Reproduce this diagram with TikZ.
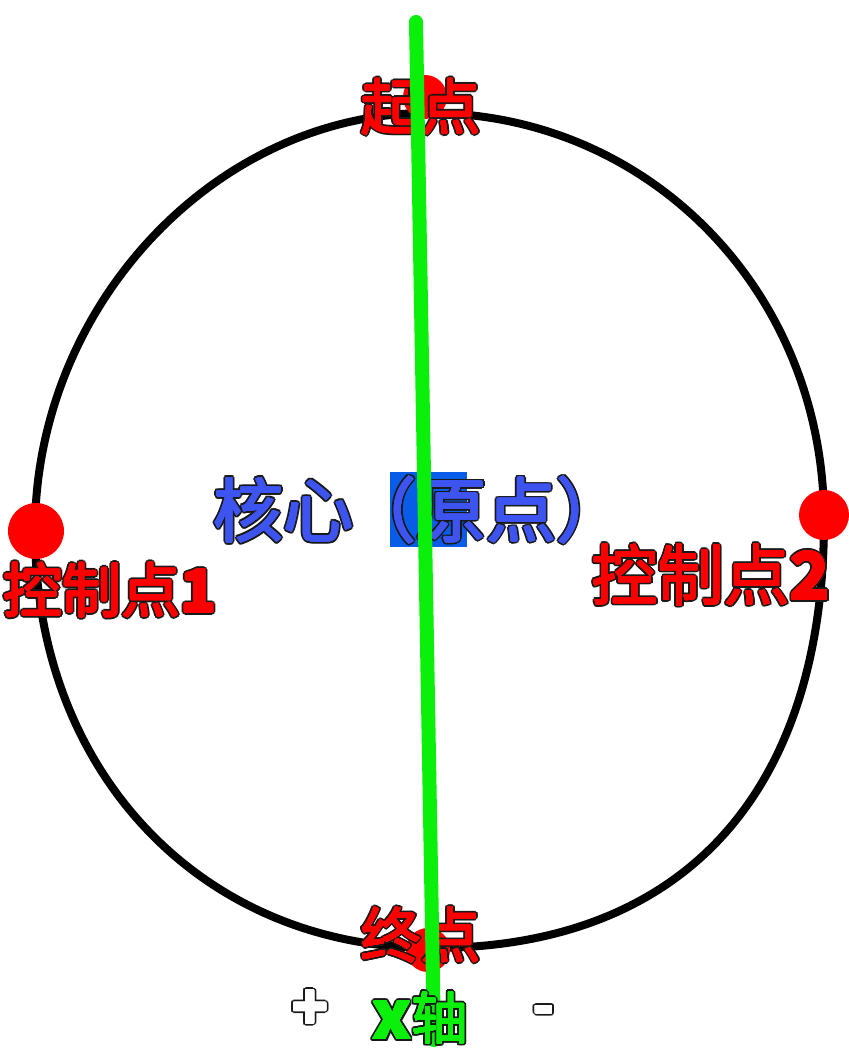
\documentclass[tikz,border=0pt]{standalone}
\usepackage{fontspec}
\newfontfamily\cjk{Noto Sans CJK SC}
\definecolor{olc}{RGB}{25,25,25}
\definecolor{labred}{RGB}{250,0,0}
\definecolor{dotred}{RGB}{255,0,0}
\definecolor{txtblue}{RGB}{62,84,240}
\definecolor{rectblue}{RGB}{8,92,232}
\definecolor{axgreen}{RGB}{10,240,10}
\newdimen\olw
\newcommand\ring[1]{% uses \olw, copies box #1
  \rlap{\kern\olw\copy#1}%
  \rlap{\kern-\olw\copy#1}%
  \rlap{\raise\olw\copy#1}%
  \rlap{\lower\olw\copy#1}%
  \rlap{\kern0.707\olw\raise0.707\olw\copy#1}%
  \rlap{\kern-0.707\olw\raise0.707\olw\copy#1}%
  \rlap{\kern0.707\olw\lower0.707\olw\copy#1}%
  \rlap{\kern-0.707\olw\lower0.707\olw\copy#1}%
  \rlap{\kern0.92\olw\raise0.38\olw\copy#1}%
  \rlap{\kern-0.92\olw\raise0.38\olw\copy#1}%
  \rlap{\kern0.92\olw\lower0.38\olw\copy#1}%
  \rlap{\kern-0.92\olw\lower0.38\olw\copy#1}%
  \rlap{\kern0.38\olw\raise0.92\olw\copy#1}%
  \rlap{\kern-0.38\olw\raise0.92\olw\copy#1}%
  \rlap{\kern0.38\olw\lower0.92\olw\copy#1}%
  \rlap{\kern-0.38\olw\lower0.92\olw\copy#1}}
\newcommand\olt[3]{%
  \setbox2=\hbox{{\color{olc}#3}}%
  \setbox4=\hbox{{\color{#1}#3}}%
  \leavevmode
  \olw=#2\relax \ring{2}%
  \olw=\dimexpr#2*6/10\relax \ring{2}%
  \olw=0.7pt \ring{4}%
  \olw=0.35pt \ring{4}%
  \box4}
\tikzset{
  dotnode/.style={circle, fill=dotred, inner sep=0pt, minimum size=#1},
  lab/.style={inner sep=0pt, anchor=center, font=\cjk\fontsize{#1}{#1}\selectfont},
}
\begin{document}
\begin{tikzpicture}[x=1pt,y=-1pt]
\useasboundingbox[fill=white] (0,0) rectangle (848,1056);
% outline points
\coordinate (L) at (35,531);
\coordinate (T) at (428,113);
\coordinate (R) at (824,520);
\coordinate (B) at (432,948);
\draw[line width=8pt, black]
  (L) .. controls (35,306) and (216,113) .. (T)
      .. controls (650,113) and (824,293) .. (R)
      .. controls (824,793) and (683,948) .. (B)
      .. controls (202,948) and (35,772) .. (L) -- cycle;
% dots
\node[dotnode=44pt] (dtop) at (425,97) {};
\node[dotnode=44pt] (dbot) at (428,950) {};
\node[dotnode=56pt] (dleft) at (36,531) {};
\node[dotnode=50pt] (dright) at (824,515) {};
% blue rectangle
\node[fill=rectblue, inner sep=0pt, minimum width=77pt, minimum height=75pt] (orect) at (428.5,509.5) {};
% labels
\node[lab=60] (qd) at (421,107) {\olt{labred}{2.6pt}{起点}};
\node[lab=60] (zd) at (421,935) {\olt{labred}{2.6pt}{终点}};
\node[lab=70] (corea) at (283.5,510) {\olt{txtblue}{2.6pt}{核心}};
\node[lab=70] (coreb) at (486.5,510) {\olt{txtblue}{2.6pt}{（原点）}};
\node[lab=59] (c1) at (110,590) {\olt{labred}{2.6pt}{控制点\bfseries 1}};
\node[lab=66] (c2) at (711,575) {\olt{labred}{2.6pt}{控制点\bfseries 2}};
\node[lab=60] (plus) at (310,1010) {\olt{white}{2.6pt}{\bfseries +}};
\node[lab=56] (minus) at (544,1016) {\olt{white}{2.6pt}{\bfseries -}};
% green axis line
\coordinate (gtop) at (416,22);
\coordinate (gbot) at (434,1040);
\draw[axgreen, line width=14pt, line cap=round] (gtop) -- (gbot);
\node[lab=56] (xaxis) at (420,1018) {\olt{axgreen}{2.6pt}{{\fontsize{66}{66}\selectfont\bfseries x}轴}};
\end{tikzpicture}
\end{document}
